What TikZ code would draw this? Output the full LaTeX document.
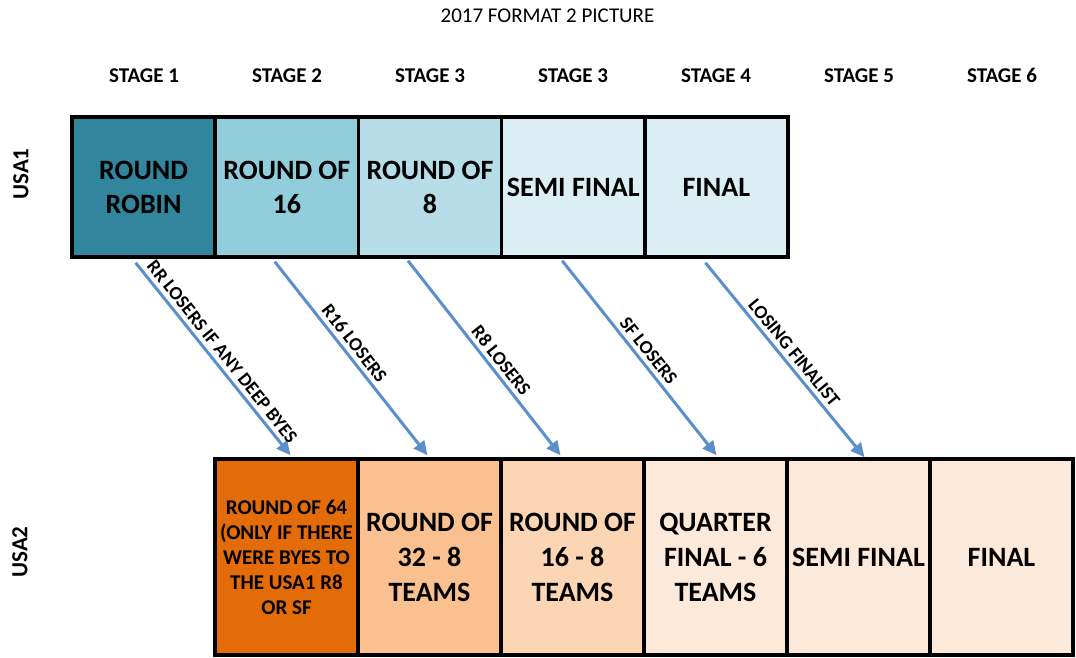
\documentclass[tikz,border=0pt]{standalone}
\usepackage{fontspec}
\setmainfont{Carlito}
\usetikzlibrary{arrows.meta}
\definecolor{rrfill}{HTML}{31859C}
\definecolor{rsixfill}{HTML}{92CDDC}
\definecolor{reightfill}{HTML}{B7DEE8}
\definecolor{sffill}{HTML}{DAEEF3}
\definecolor{sixtyfourfill}{HTML}{E36C09}
\definecolor{thirtytwofill}{HTML}{FAC08F}
\definecolor{sixteenfill}{HTML}{FCD5B4}
\definecolor{qffill}{HTML}{FDE9D9}
\definecolor{arrowblue}{HTML}{5A8FCB}

\begin{document}
\begin{tikzpicture}[x=1pt,y=-1pt,
    cell/.style={draw,line width=3.5pt,inner sep=0pt,align=center,font=\fontsize{28}{34}\selectfont\bfseries},
    topcell/.style={cell,minimum width=143.2pt,minimum height=140pt},
    lowcell/.style={cell,minimum width=143pt,minimum height=196pt},
    stagelbl/.style={anchor=base,font=\fontsize{21}{25}\selectfont\bfseries},
    rowlbl/.style={font=\fontsize{23}{27}\selectfont\bfseries,rotate=90},
    loser/.style={draw=arrowblue,line width=3pt,-{Triangle[length=14pt,width=13pt]}},
    loserlbl/.style={sloped,above,font=\fontsize{19}{22}\selectfont\bfseries,inner sep=4pt}]
    \useasboundingbox (0,0) rectangle (1076,658);
    \node[font=\fontsize{21}{25}\selectfont] (title) at (547.5,16) {2017 FORMAT 2 PICTURE};
    \node[stagelbl] (st1) at (144,83) {STAGE 1};
    \node[stagelbl] (st2) at (287,83) {STAGE 2};
    \node[stagelbl] (st3) at (430,83) {STAGE 3};
    \node[stagelbl] (st3b) at (573,83) {STAGE 3};
    \node[stagelbl] (st4) at (716,83) {STAGE 4};
    \node[stagelbl] (st5) at (859,83) {STAGE 5};
    \node[stagelbl] (st6) at (1002,83) {STAGE 6};
    \node[rowlbl] (usaone) at (21,174) {USA1};
    \node[rowlbl] (usatwo) at (20,552) {USA2};
    % USA1 row
    \node[topcell,fill=rrfill] (rr) at (143.6,187) {ROUND\\ROBIN};
    \node[topcell,fill=rsixfill] (rsix) at (286.8,187) {ROUND OF\\16};
    \node[topcell,fill=reightfill] (reight) at (430,187) {ROUND OF\\8};
    \node[topcell,fill=sffill] (sf) at (573.2,187) {SEMI FINAL};
    \node[topcell,fill=sffill] (fin) at (716.4,187) {FINAL};
    % USA2 row
    \node[lowcell,fill=sixtyfourfill,font=\fontsize{21}{25}\selectfont\bfseries] (rsixtyfour) at (286.5,557) {ROUND OF 64\\(ONLY IF THERE\\WERE BYES TO\\THE USA1 R8\\OR SF};
    \node[lowcell,fill=thirtytwofill,font=\fontsize{28}{35}\selectfont\bfseries] (rthirtytwo) at (429.5,557) {ROUND OF\\32 - 8\\TEAMS};
    \node[lowcell,fill=sixteenfill,font=\fontsize{28}{35}\selectfont\bfseries] (rsixteen) at (572.5,557) {ROUND OF\\16 - 8\\TEAMS};
    \node[lowcell,fill=qffill,font=\fontsize{28}{35}\selectfont\bfseries] (qf) at (715.5,557) {QUARTER\\FINAL - 6\\TEAMS};
    \node[lowcell,fill=qffill] (sftwo) at (858.5,557) {SEMI FINAL};
    \node[lowcell,fill=qffill] (fintwo) at (1001.5,557) {FINAL};
    % losers drop down
    \draw[loser] ([xshift=-8pt,yshift=-4pt]rr.south) -- node[loserlbl] {RR LOSERS IF ANY DEEP BYES} ([xshift=4pt,yshift=2pt]rsixtyfour.north);
    \draw[loser] ([xshift=-12pt,yshift=-3pt]rsix.south) -- node[loserlbl,pos=0.46] {R16 LOSERS} ([xshift=-2pt,yshift=2pt]rthirtytwo.north);
    \draw[loser] ([xshift=-22pt,yshift=-2pt]reight.south) -- node[loserlbl,pos=0.55] {R8 LOSERS} ([xshift=-12pt,yshift=2pt]rsixteen.north);
    \draw[loser] ([xshift=-11pt,yshift=-2pt]sf.south) -- node[loserlbl] {SF LOSERS} ([xshift=1pt,yshift=2pt]qf.north);
    \draw[loser] ([xshift=-11pt,yshift=-4pt]fin.south) -- node[loserlbl] {LOSING FINALIST} ([xshift=6pt,yshift=0pt]sftwo.north);
\end{tikzpicture}
\end{document}
